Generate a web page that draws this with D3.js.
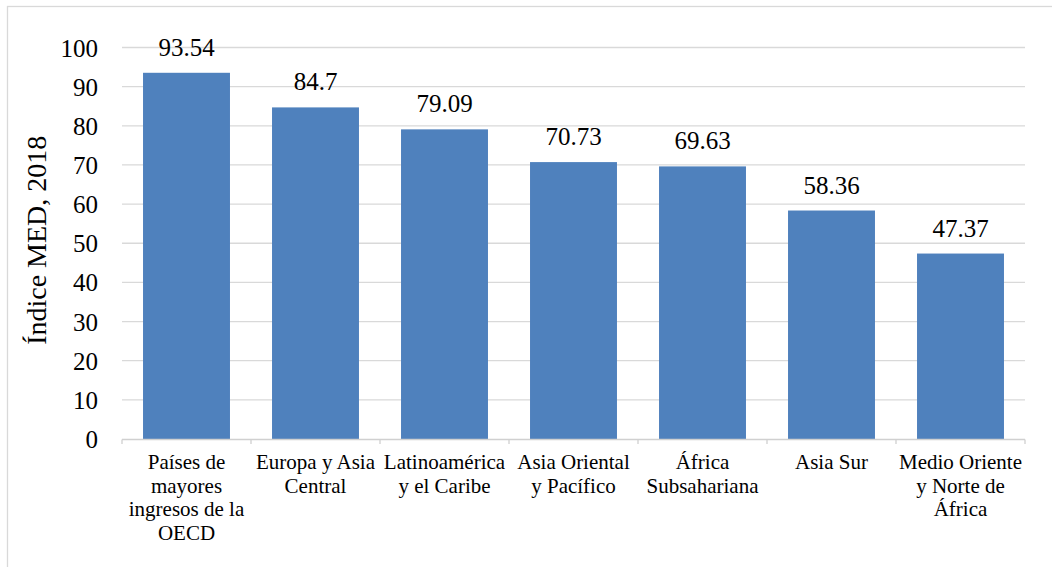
<!DOCTYPE html>
<html>
<head>
<meta charset="utf-8">
<script src="https://cdn.jsdelivr.net/npm/d3@7"></script>
<style>
  body { margin: 0; background: #fff; }
  svg text { font-family: "Liberation Serif", "Times New Roman", serif !important; fill: #000; }
</style>
</head>
<body>
<div id="chart"></div>
<script>
// data
var regions = ["oecd", "eca", "lac", "eap", "ssa", "sa", "mena"];
var regionLabels = [
    ["Países de", "mayores", "ingresos de la", "OECD"],
    ["Europa y Asia", "Central"],
    ["Latinoamérica", "y el Caribe"],
    ["Asia Oriental", "y Pacífico"],
    ["África", "Subsahariana"],
    ["Asia Sur"],
    ["Medio Oriente", "y Norte de", "África"]
];
var medValues = [93.54, 84.7, 79.09, 70.73, 69.63, 58.36, 47.37];
var valueLabels = ["93.54", "84.7", "79.09", "70.73", "69.63", "58.36", "47.37"];
var yTicks = [0, 10, 20, 30, 40, 50, 60, 70, 80, 90, 100];
var yTitle = "Índice MED, 2018";

var w = 1052;
var h = 567;
var serif = "'Liberation Serif', 'Times New Roman', serif";

var svg = d3.select("#chart")
    .append("svg")
    .attr("width", w)
    .attr("height", h)
    .style("font-family", serif);

// outer chart border (runs off the right/bottom edge like the source)
svg.append("rect")
    .attr("x", 7.5)
    .attr("y", 6.5)
    .attr("width", 1100)
    .attr("height", 600)
    .attr("fill", "none")
    .attr("stroke", "#d9d9d9")
    .attr("stroke-width", 1.3);

// plot area (note: "top" is reserved on window, so use plotTop)
var plotLeft = 122, plotRight = 1025, plotBottom = 439, plotTop = 47.5;

var yscale = d3.scaleLinear()
    .domain([0, 100])
    .range([plotBottom, plotTop]);

var xscale = d3.scaleBand()
    .domain(regions)
    .range([plotLeft, plotRight])
    .paddingInner(0.326)
    .paddingOuter(0.163);

// gridlines
svg.append("g")
    .selectAll("line")
    .data(yTicks.filter(function (d) { return d > 0; }))
    .enter().append("line")
    .attr("x1", plotLeft)
    .attr("x2", plotRight)
    .attr("y1", function (d) { return yscale(d); })
    .attr("y2", function (d) { return yscale(d); })
    .attr("stroke", "#d9d9d9")
    .attr("stroke-width", 1.3);

// y axis labels
var yaxis = d3.axisLeft(yscale)
    .tickValues(yTicks)
    .tickSize(0)
    .tickPadding(24);

var gy = svg.append("g")
    .attr("transform", "translate(" + plotLeft + ",0)")
    .call(yaxis);
gy.select(".domain").remove();
gy.attr("font-family", serif).attr("font-size", null);
gy.selectAll("text")
    .style("font-family", serif)
    .attr("font-size", 25)
    .attr("dy", "0.34em");

// bars
svg.append("g")
    .selectAll("rect")
    .data(medValues)
    .enter().append("rect")
    .attr("x", function (d, i) { return xscale(regions[i]); })
    .attr("y", function (d) { return yscale(d); })
    .attr("width", xscale.bandwidth())
    .attr("height", function (d) { return plotBottom - yscale(d); })
    .attr("fill", "#4f81bd");

// value labels
svg.append("g")
    .selectAll("text")
    .data(medValues)
    .enter().append("text")
    .attr("x", function (d, i) { return xscale(regions[i]) + xscale.bandwidth() / 2; })
    .attr("y", function (d) { return yscale(d) - 17; })
    .attr("text-anchor", "middle")
    .style("font-family", serif)
    .attr("font-size", 25)
    .text(function (d, i) { return valueLabels[i]; });

// x axis line + boundary ticks
var gx = svg.append("g");
gx.append("line")
    .attr("x1", plotLeft)
    .attr("x2", plotRight)
    .attr("y1", plotBottom + 0.5)
    .attr("y2", plotBottom + 0.5)
    .attr("stroke", "#d0d0d0")
    .attr("stroke-width", 1.3);

var bounds = d3.range(regions.length + 1).map(function (i) {
    return plotLeft + i * xscale.step();
});
gx.selectAll(".bt")
    .data(bounds)
    .enter().append("line")
    .attr("class", "bt")
    .attr("x1", function (d) { return d; })
    .attr("x2", function (d) { return d; })
    .attr("y1", plotBottom + 0.5)
    .attr("y2", plotBottom + 5)
    .attr("stroke", "#d0d0d0")
    .attr("stroke-width", 1.3);

// category labels
var cat = svg.append("g")
    .selectAll("text")
    .data(regions)
    .enter().append("text")
    .attr("text-anchor", "middle")
    .style("font-family", serif)
    .attr("font-size", 21)
    .attr("x", function (d) { return xscale(d) + xscale.bandwidth() / 2; })
    .attr("y", 469);

cat.selectAll("tspan")
    .data(function (d, i) { return regionLabels[i]; })
    .enter().append("tspan")
    .attr("x", function () { return d3.select(this.parentNode).attr("x"); })
    .attr("dy", function (d, i) { return i == 0 ? 0 : 23.5; })
    .text(function (d) { return d; });

// y axis title
svg.append("text")
    .attr("transform", "translate(46," + ((plotTop + plotBottom) / 2 - 3) + ") rotate(-90)")
    .attr("text-anchor", "middle")
    .style("font-family", serif)
    .attr("font-size", 28)
    .text(yTitle);
</script>
</body>
</html>
